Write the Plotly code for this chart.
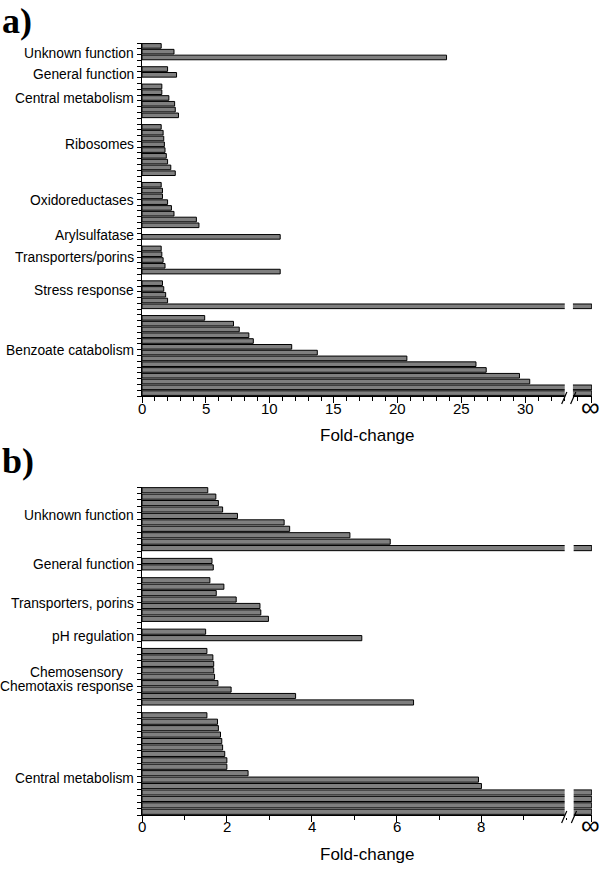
import plotly.graph_objects as go

INF = float("inf")

# ---------------- Panel a data ----------------
groups_a = ["Unknown function", "General function", "Central metabolism", "Ribosomes",
            "Oxidoreductases", "Arylsulfatase", "Transporters/porins", "Stress response",
            "Benzoate catabolism"]
unknown_a = [1.5, 2.5, 23.8]
general_a = [2.0, 2.7]
central_a = [1.55, 1.55, 2.1, 2.55, 2.6, 2.85]
ribosomes_a = [1.5, 1.65, 1.7, 1.75, 1.8, 1.9, 2.0, 2.25, 2.6]
oxido_a = [1.5, 1.6, 1.6, 2.0, 2.3, 2.5, 4.25, 4.45]
aryl_a = [10.8]
transporters_a = [1.5, 1.55, 1.65, 1.8, 10.8]
stress_a = [1.6, 1.7, 1.85, 2.0, INF]
benzoate_a = [4.9, 7.15, 7.6, 8.35, 8.7, 11.7, 13.7, 20.7, 26.1, 26.9, 29.5, 30.3, INF, INF]
xticks_a = [0, 5, 10, 15, 20, 25, 30]

# ---------------- Panel b data ----------------
groups_b = ["Unknown function", "General function", "Transporters, porins", "pH regulation",
            "Chemosensory\u00a0\u00a0\u00a0<br>Chemotaxis response", "Central metabolism"]
unknown_b = [1.55, 1.74, 1.8, 1.9, 2.25, 3.35, 3.48, 4.9, 5.85, INF]
general_b = [1.65, 1.68]
transporters_b = [1.6, 1.93, 1.75, 2.22, 2.78, 2.8, 2.98]
ph_b = [1.5, 5.18]
chemo_b = [1.53, 1.67, 1.69, 1.69, 1.71, 1.79, 2.1, 3.62, 6.4]
central_b = [1.53, 1.78, 1.8, 1.85, 1.88, 1.9, 1.95, 2.0, 2.0, 2.5, 7.93, 8.0, INF, INF, INF, INF]
xticks_b = [0, 2, 4, 6, 8]

# axis ends / breaks (data units)
END_A, BREAK_A = 35.15, (33.0, 33.7)
END_B, BREAK_B = 10.6, (9.95, 10.18)

# label nudges (in bar slots) to match hand-placed group labels
NUDGE_A = [0.3, 0.5, -0.4, -1.0, -0.8, -0.2, -0.5, -0.7, -0.9]
NUDGE_B = [-0.6, 0.0, 0.6, 0.3, 0.5, 2.3]

# ---------------- layout in page pixels ----------------
W, H = 600, 886
PL, PR = 142, 592
A_TOP, A_BOT = 43, 396
B_TOP, B_BOT = 487, 815
PH = B_BOT - A_TOP


def py(px):
    return (B_BOT - px) / PH


def px_x(px):
    return (px - PL) / (PR - PL)


def build(groups_vals, end):
    ys, xs, centers = [], [], []
    slot = 0
    for vals in groups_vals:
        start = slot
        for v in vals:
            ys.append(slot)
            xs.append(end if v == INF else v)
            slot += 1
        centers.append((start + slot - 1) / 2)
        slot += 1
    return ys, xs, centers, slot - 1


ya, xa, ca, na = build([unknown_a, general_a, central_a, ribosomes_a, oxido_a, aryl_a,
                        transporters_a, stress_a, benzoate_a], END_A)
yb, xb, cb, nb = build([unknown_b, general_b, transporters_b, ph_b, chemo_b, central_b], END_B)

FONT = "Arial, Liberation Sans, Helvetica, sans-serif"
BAR = dict(color="#7f7f7f", line=dict(color="black", width=1))

fig = go.Figure()
fig.add_trace(go.Bar(x=xa, y=ya, orientation="h", marker=BAR, width=0.8,
                     xaxis="x", yaxis="y", showlegend=False))
fig.add_trace(go.Bar(x=xb, y=yb, orientation="h", marker=BAR, width=0.8,
                     xaxis="x2", yaxis="y2", showlegend=False))


def xaxis(ticks, end, anchor, minor_vals):
    return dict(range=[0, end * 1.0005], domain=[0, 1], anchor=anchor,
                tickmode="array", tickvals=ticks + [end], showticklabels=False,
                ticks="outside", ticklen=6, tickcolor="black", tickwidth=1,
                minor=dict(tickmode="array", tickvals=minor_vals, ticks="outside",
                           ticklen=4, tickcolor="black", tickwidth=1, showgrid=False),
                showline=True, linecolor="black", linewidth=1,
                showgrid=False, zeroline=False, fixedrange=True)


def yaxis(n, domain, anchor):
    return dict(range=[n - 0.5, -0.5], domain=domain, anchor=anchor,
                tickmode="array", tickvals=[k - 0.5 for k in range(n + 1)],
                showticklabels=False, ticks="outside", ticklen=4,
                tickcolor="black", tickwidth=1,
                showline=True, linecolor="black", linewidth=1,
                showgrid=False, zeroline=False, fixedrange=True)


fig.update_layout(
    width=W, height=H, plot_bgcolor="white", paper_bgcolor="white",
    margin=dict(l=PL, r=W - PR, t=A_TOP, b=H - B_BOT, pad=0),
    bargap=0.2,
    xaxis=xaxis(xticks_a, END_A, "y", [k for k in range(1, 35)]),
    yaxis=yaxis(na, [(B_BOT - A_BOT) / PH, 1], "x"),
    xaxis2=xaxis(xticks_b, END_B, "y2", [k for k in range(1, 11)]),
    yaxis2=yaxis(nb, [0, (B_BOT - B_TOP) / PH], "x2"),
    font=dict(family=FONT, color="black"),
)

LABEL_FONT = dict(family=FONT, size=13.8, color="black")
ann = []


def add_group_labels(groups, centers, nudges, yref, slot_px):
    for g, c, d in zip(groups, centers, nudges):
        lines = g.split("<br>")
        k = len(lines)
        for i, line in enumerate(lines):
            off = (i - (k - 1) / 2) * 14 / slot_px
            ann.append(dict(text=line, x=0, xref="paper", y=c + d + off, yref=yref,
                            xanchor="right", yanchor="middle", xshift=-6,
                            showarrow=False, align="right", font=LABEL_FONT))


add_group_labels(groups_a, ca, NUDGE_A, "y", (A_BOT - A_TOP) / (na + 0))
add_group_labels(groups_b, cb, NUDGE_B, "y2", (B_BOT - B_TOP) / (nb + 0))

TICK_FONT = dict(family=FONT, size=15, color="black")
for xr, ticks, end, yc in [("x", xticks_a, END_A, 408), ("x2", xticks_b, END_B, 826)]:
    for t in ticks:
        ann.append(dict(text=str(t), x=t, xref=xr, y=py(yc), yref="paper",
                        xanchor="center", yanchor="middle", showarrow=False,
                        font=TICK_FONT))
    ann.append(dict(text="\u221e", x=end, xref=xr, y=py(yc - 1), yref="paper",
                    xanchor="center", yanchor="middle", showarrow=False, xshift=-1,
                    font=dict(family=FONT, size=26, color="black")))

for txt, yc in [("Fold-change", 435), ("Fold-change", 854)]:
    ann.append(dict(text=txt, x=0.5, xref="paper", y=py(yc), yref="paper",
                    xanchor="center", yanchor="middle", showarrow=False,
                    font=dict(family=FONT, size=17, color="black")))
for txt, ytop in [("a)", 0), ("b)", 440)]:
    ann.append(dict(text="<b>" + txt + "</b>", x=px_x(1), xref="paper", y=py(ytop),
                    yref="paper", xanchor="left", yanchor="top", showarrow=False,
                    borderpad=0,
                    font=dict(family="Liberation Serif, Times New Roman, serif",
                              size=36, color="black")))
fig.update_layout(annotations=ann)

shapes = []
for xr, yr, (lo, hi), end, hpx in [("x", "y domain", BREAK_A, END_A, A_BOT - A_TOP),
                                   ("x2", "y2 domain", BREAK_B, END_B, B_BOT - B_TOP)]:
    upx = (PR - PL) / end
    shapes.append(dict(type="rect", xref=xr, yref=yr, x0=lo + 0.5 / upx, x1=hi - 0.3 / upx,
                       y0=-3 / hpx, y1=1, fillcolor="white", line=dict(width=0),
                       layer="above"))
    for xc in (lo, hi):
        shapes.append(dict(type="line", xref=xr, yref=yr, x0=xc - 2.6 / upx, x1=xc + 2.6 / upx,
                           y0=-8 / hpx, y1=4 / hpx, line=dict(color="black", width=1.2),
                           layer="above"))
fig.update_layout(shapes=shapes)

fig.write_html("out.html", config={"displayModeBar": False},
               post_script="document.body.style.margin='0px';document.body.style.padding='0px';")
